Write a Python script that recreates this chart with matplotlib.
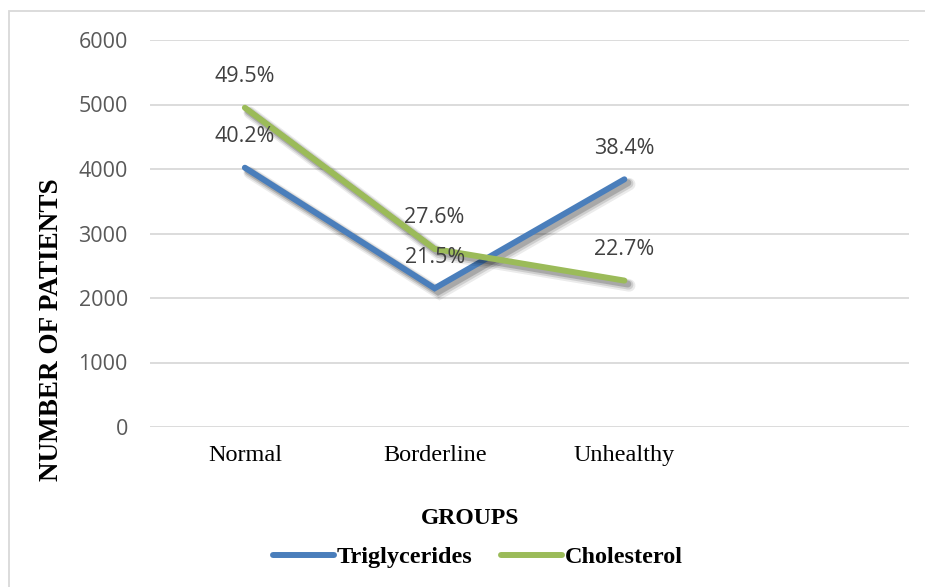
import matplotlib
matplotlib.use("Agg")
import matplotlib.pyplot as plt
import matplotlib.patheffects as pe
from matplotlib.patches import Rectangle
from matplotlib.lines import Line2D

# Data
groups = ["Normal", "Borderline", "Unhealthy"]
triglycerides = [4020, 2150, 3840]
cholesterol = [4950, 2760, 2270]
trig_labels = ["40.2%", "21.5%", "38.4%"]
chol_labels = ["49.5%", "27.6%", "22.7%"]
yticks = [0, 1000, 2000, 3000, 4000, 5000, 6000]

W, H, DPI = 925, 587, 100
fig = plt.figure(figsize=(W / DPI, H / DPI), dpi=DPI)
fig.patch.set_facecolor("white")

# Chart-area border
fig.add_artist(Rectangle((9 / W, -0.05), 1.1, 1 - 11 / H + 0.05,
                         transform=fig.transFigure, fill=False,
                         edgecolor="#d9d9d9", linewidth=1.3))

ax = fig.add_axes([150 / W, 1 - 427 / H, (909 - 150) / W, (427 - 40) / H])
ax.set_xlim(-0.5, 3.5)
ax.set_ylim(0, 6000)
ax.set_yticks(yticks)
ax.set_yticklabels([str(v) for v in yticks], fontfamily="Open Sans",
                   fontsize=15.5, color="#595959")
ax.set_xticks(range(len(groups)))
ax.set_xticklabels(groups, fontfamily="Liberation Serif", fontsize=17.5,
                   color="black")
ax.tick_params(axis="both", length=0)
ax.tick_params(axis="y", pad=16)
ax.tick_params(axis="x", pad=13)
for s in ax.spines.values():
    s.set_visible(False)
ax.grid(axis="y", color="#d9d9d9", linewidth=1.3)
ax.set_axisbelow(True)

# Soft drop shadow built from stacked translucent offsets
shadow = [
    pe.SimpleLineShadow(offset=(3.5, -3.5), shadow_color="#000000", alpha=0.08, linewidth=9.0),
    pe.SimpleLineShadow(offset=(3.0, -3.0), shadow_color="#000000", alpha=0.12, linewidth=7.0),
    pe.SimpleLineShadow(offset=(2.5, -2.5), shadow_color="#000000", alpha=0.18, linewidth=5.0),
    pe.Normal(),
]

blue = "#4a7ebb"
green = "#9bbb59"
x = list(range(len(groups)))
ax.plot(x, triglycerides, color=blue, linewidth=4.3, solid_capstyle="round",
        solid_joinstyle="miter", path_effects=shadow, zorder=3)
ax.plot(x, cholesterol, color=green, linewidth=4.3, solid_capstyle="round",
        solid_joinstyle="miter", path_effects=shadow, zorder=4)

for xi, v, lab in zip(x, triglycerides, trig_labels):
    ax.annotate(lab, (xi, v), xytext=(0, 22.5), textcoords="offset points",
                ha="center", va="center", fontfamily="Open Sans",
                fontsize=15.5, color="#404040", zorder=5)
for xi, v, lab in zip(x, cholesterol, chol_labels):
    ax.annotate(lab, (xi, v), xytext=(0, 22.5), textcoords="offset points",
                ha="center", va="center", fontfamily="Open Sans",
                fontsize=15.5, color="#404040", zorder=5)

# Axis titles
fig.text(52 / W, 1 - 330 / H, "NUMBER OF PATIENTS", rotation=90,
         ha="center", va="center", fontfamily="Liberation Serif",
         fontweight="bold", fontsize=19.5, color="black")
fig.text(470 / W, 1 - 518 / H, "GROUPS", ha="center", va="center",
         fontfamily="Liberation Serif", fontweight="bold", fontsize=17,
         color="black")

# Legend
handles = [Line2D([], [], color=blue, linewidth=4.3, solid_capstyle="round"),
           Line2D([], [], color=green, linewidth=4.3, solid_capstyle="round")]
fig.legend(handles, ["Triglycerides", "Cholesterol"], loc="center",
           bbox_to_anchor=(478 / W, 1 - 557 / H), ncol=2, frameon=False,
           prop={"family": "Liberation Serif", "weight": "bold", "size": 17.5},
           handlelength=2.5, handletextpad=0.1, columnspacing=1.2)

fig.savefig("out.png", dpi=DPI, facecolor="white")
